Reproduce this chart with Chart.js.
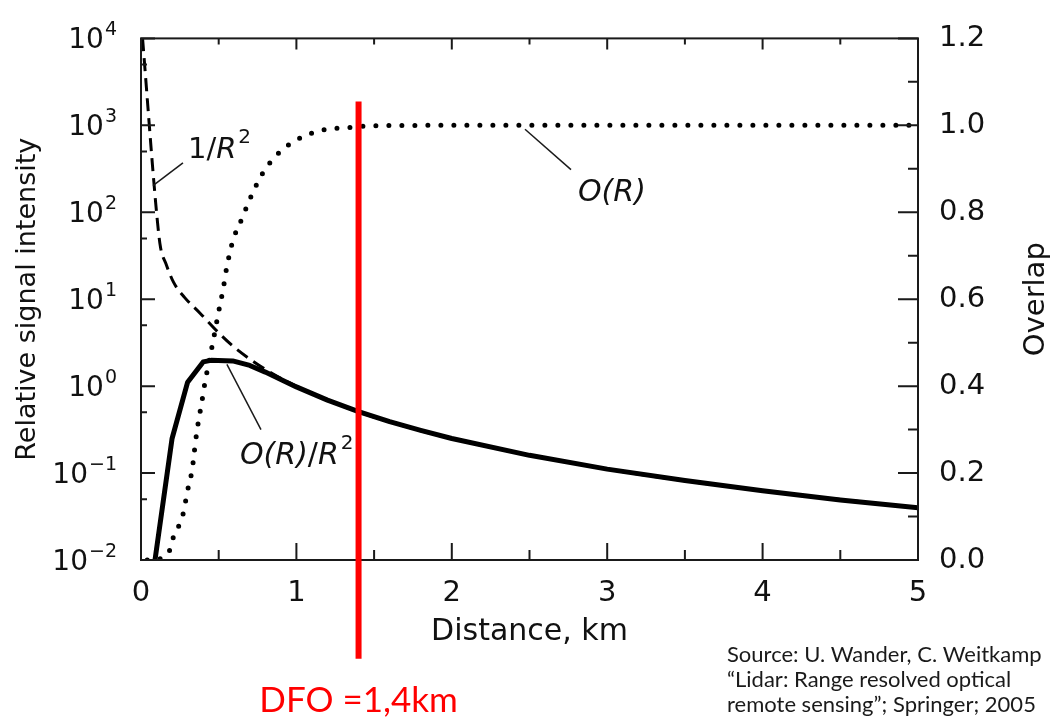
<!DOCTYPE html>
<html>
<head>
<meta charset="utf-8">
<title>Lidar overlap and range signal</title>
<script src="https://cdn.jsdelivr.net/npm/chart.js@4.4.1/dist/chart.umd.min.js"></script>
<style>
  html, body { margin: 0; padding: 0; background: #ffffff; }
  #wrap { position: relative; width: 1054px; height: 718px; }
  canvas { display: block; }
</style>
</head>
<body>
<div id="wrap"><canvas id="chart" width="1054" height="718"></canvas></div>
<script>
// Range-corrected lidar signal O(R)/R^2 (solid, left log axis)
const distanceSignal = [0.09, 0.2, 0.3, 0.4, 0.45, 0.59, 0.7, 0.8, 0.9, 1.0, 1.2, 1.4, 1.6, 1.8, 2.0, 2.5, 3.0, 3.5, 4.0, 4.5, 5.0];
const signalValues   = [0.01, 0.25, 1.11, 1.9, 1.98, 1.95, 1.73, 1.45, 1.19, 0.98, 0.69, 0.51, 0.39, 0.31, 0.25, 0.16, 0.111, 0.082, 0.0625, 0.049, 0.04];

// Geometric 1/R^2 term (dashed, left log axis)
const distanceInvSq = [0.01, 0.1, 0.125, 0.16, 0.21, 0.28, 0.38, 0.5, 0.6, 0.7, 0.8, 0.9, 1.0, 1.2, 1.5, 2.0, 3.0, 4.0, 5.0];
const invSqValues   = [10000, 100, 40, 25.7, 15.6, 10.5, 6.9, 4.1, 2.8, 2.05, 1.56, 1.23, 1.0, 0.69, 0.44, 0.25, 0.111, 0.0625, 0.04];

// Overlap function O(R) (dotted, right linear axis)
const distanceOverlap = [0.04, 0.1, 0.135, 0.19, 0.21, 0.245, 0.27, 0.3, 0.33, 0.35, 0.37, 0.39, 0.41, 0.44, 0.47, 0.5, 0.53, 0.55, 0.59, 0.65, 0.71, 0.78, 0.88, 1.01, 1.17, 1.34, 1.5, 2.0, 3.0, 4.0, 5.0];
const overlapValues   = [0, 0.002, 0.005, 0.027, 0.055, 0.08, 0.105, 0.16, 0.21, 0.27, 0.32, 0.36, 0.405, 0.46, 0.515, 0.572, 0.626, 0.67, 0.733, 0.786, 0.838, 0.888, 0.934, 0.968, 0.989, 0.995, 0.999, 1, 1, 1, 1];

// Axis ticks
const xTickValues      = [0, 1, 2, 3, 4, 5];
const xMinorValues     = [0.5, 1.5, 2.5, 3.5, 4.5];
const leftExponents    = [-2, -1, 0, 1, 2, 3, 4];
const leftMinorValues  = [0.05, 0.5, 5, 50, 500, 5000];
const rightTickValues  = [0, 0.2, 0.4, 0.6, 0.8, 1.0, 1.2];
const rightMinorValues = [0.1, 0.3, 0.5, 0.7, 0.9, 1.1];

// Texts
const xTitle = 'Distance, km';
const leftTitle = 'Relative signal intensity';
const rightTitle = 'Overlap';
const dfoDistance = 1.4;
const dfoLabel = 'DFO =1,4km';
const dfoSpan = [1.055, -0.227];          // vertical extent on the overlap axis
const sourceLines = [
  'Source: U. Wander, C. Weitkamp',
  '\u201CLidar: Range resolved optical',
  'remote sensing\u201D; Springer; 2005'
];

// Curve labels with leader lines, placed in data coordinates
const curveLabels = [
  { parts: [{ text: '1/' }, { text: 'R', italic: true }, { text: '2', sup: true }],
    axis: 'y', at: [0.302, 422], leader: [[0.27, 370], [0.077, 203]], size: 29 },
  { parts: [{ text: 'O(R)', italic: true }],
    axis: 'y2', at: [2.812, 0.825], leader: [[2.471, 0.991], [2.767, 0.898]], size: 30 },
  { parts: [{ text: 'O(R)', italic: true }, { text: '/' }, { text: 'R', italic: true }, { text: '2', sup: true }],
    axis: 'y', at: [0.637, 0.1265], leader: [[0.553, 1.78], [0.772, 0.316]], size: 30 }
];

const inkColor = '#1a1a1a';
const textColor = '#111111';
const chartFont = '"DejaVu Sans", "Liberation Sans", sans-serif';
const slideFont = 'Lato, "Open Sans", sans-serif';

const toPoints = (xs, ys) => xs.map((x, i) => ({ x: x, y: ys[i] }));

function drawRich(ctx, x, y, parts, size) {
  let cx = x;
  ctx.textAlign = 'left';
  ctx.textBaseline = 'alphabetic';
  parts.forEach(p => {
    const fs = p.sup ? Math.round(size * 0.68) : size;
    ctx.font = (p.italic ? 'italic ' : '') + fs + 'px ' + chartFont;
    if (p.sup) cx += 2;
    ctx.fillText(p.text, cx, p.sup ? y - size * 0.52 : y);
    cx += ctx.measureText(p.text).width;
  });
}

const plotDecor = {
  id: 'plotDecor',
  afterDraw(chart) {
    const { ctx, chartArea: a, scales } = chart;
    const sx = scales.x, sy = scales.y, so = scales.y2;
    ctx.save();

    // plot frame
    ctx.strokeStyle = inkColor;
    ctx.lineWidth = 2;
    ctx.strokeRect(a.left, a.top, a.right - a.left, a.bottom - a.top);

    // inward tick marks
    ctx.beginPath();
    const seg = (x1, y1, x2, y2) => { ctx.moveTo(x1, y1); ctx.lineTo(x2, y2); };
    xTickValues.forEach(v => {
      const p = sx.getPixelForValue(v);
      seg(p, a.bottom, p, a.bottom - 17);
      seg(p, a.top, p, a.top + 11);
    });
    xMinorValues.forEach(v => {
      const p = sx.getPixelForValue(v);
      seg(p, a.bottom, p, a.bottom - 10);
      seg(p, a.top, p, a.top + 6);
    });
    leftExponents.forEach(e => {
      const p = sy.getPixelForValue(Math.pow(10, e));
      seg(a.left, p, a.left + 14, p);
    });
    leftMinorValues.forEach(v => {
      const p = sy.getPixelForValue(v);
      seg(a.left, p, a.left + 6, p);
    });
    rightTickValues.forEach(v => {
      const p = so.getPixelForValue(v);
      seg(a.right, p, a.right - 20, p);
    });
    rightMinorValues.forEach(v => {
      const p = so.getPixelForValue(v);
      seg(a.right, p, a.right - 10, p);
    });
    ctx.stroke();

    // left tick labels as powers of ten
    ctx.fillStyle = textColor;
    ctx.textAlign = 'right';
    ctx.textBaseline = 'alphabetic';
    leftExponents.forEach(e => {
      const p = sy.getPixelForValue(Math.pow(10, e));
      const base = p + 10;
      const expText = e < 0 ? '\u2212' + (-e) : String(e);
      const right = a.left - 24;
      ctx.font = '19px ' + chartFont;
      ctx.fillText(expText, right, base - 13);
      const w = ctx.measureText(expText).width;
      ctx.font = '28px ' + chartFont;
      ctx.fillText('10', right - w - 1, base);
    });

    // right axis title, reading upwards
    ctx.save();
    ctx.translate(1044, (a.top + a.bottom) / 2);
    ctx.rotate(-Math.PI / 2);
    ctx.textAlign = 'center';
    ctx.textBaseline = 'alphabetic';
    ctx.font = '29px ' + chartFont;
    ctx.fillText(rightTitle, 0, 0);
    ctx.restore();

    // curve labels and leader lines
    curveLabels.forEach(lbl => {
      const ys = scales[lbl.axis];
      ctx.beginPath();
      ctx.strokeStyle = inkColor;
      ctx.lineWidth = 1.5;
      ctx.moveTo(sx.getPixelForValue(lbl.leader[0][0]), ys.getPixelForValue(lbl.leader[0][1]));
      ctx.lineTo(sx.getPixelForValue(lbl.leader[1][0]), ys.getPixelForValue(lbl.leader[1][1]));
      ctx.stroke();
      ctx.fillStyle = textColor;
      drawRich(ctx, sx.getPixelForValue(lbl.at[0]), ys.getPixelForValue(lbl.at[1]), lbl.parts, lbl.size);
    });

    // DFO marker
    const dx = sx.getPixelForValue(dfoDistance);
    ctx.beginPath();
    ctx.strokeStyle = '#ff0000';
    ctx.lineWidth = 6;
    ctx.moveTo(dx, so.getPixelForValue(dfoSpan[0]));
    ctx.lineTo(dx, so.getPixelForValue(dfoSpan[1]));
    ctx.stroke();
    ctx.fillStyle = '#ff0000';
    ctx.font = '35px ' + slideFont;
    ctx.textAlign = 'center';
    ctx.textBaseline = 'alphabetic';
    ctx.fillText(dfoLabel, dx, 712);

    // source note
    ctx.fillStyle = '#1a1a1a';
    ctx.font = '22px ' + slideFont;
    ctx.textAlign = 'left';
    sourceLines.forEach((line, i) => ctx.fillText(line, 727, 662 + i * 25));

    ctx.restore();
  }
};

new Chart(document.getElementById('chart'), {
  type: 'line',
  data: {
    datasets: [
      {
        label: 'O(R)/R\u00B2',
        data: toPoints(distanceSignal, signalValues),
        yAxisID: 'y',
        borderColor: '#000000',
        borderWidth: 5,
        borderJoinStyle: 'round',
        borderCapStyle: 'round',
        pointRadius: 0,
        tension: 0,
        order: 0
      },
      {
        label: '1/R\u00B2',
        data: toPoints(distanceInvSq, invSqValues),
        yAxisID: 'y',
        borderColor: '#000000',
        borderWidth: 3,
        borderDash: [13, 7],
        pointRadius: 0,
        cubicInterpolationMode: 'monotone',
        order: 1
      },
      {
        label: 'O(R)',
        data: toPoints(distanceOverlap, overlapValues),
        yAxisID: 'y2',
        borderColor: '#000000',
        borderWidth: 5,
        borderDash: [0, 13],
        borderCapStyle: 'round',
        pointRadius: 0,
        cubicInterpolationMode: 'monotone',
        order: 2
      }
    ]
  },
  options: {
    responsive: false,
    animation: false,
    devicePixelRatio: 1,
    layout: { padding: { top: 32, left: 0, right: 0, bottom: 0 } },
    plugins: { legend: { display: false }, tooltip: { enabled: false } },
    scales: {
      x: {
        type: 'linear',
        position: 'bottom',
        min: 0,
        max: 5,
        afterBuildTicks: s => { s.ticks = xTickValues.map(v => ({ value: v })); },
        ticks: { color: textColor, font: { family: chartFont, size: 29 }, padding: 16, maxRotation: 0,
                 callback: v => String(v) },
        grid: { display: false, drawTicks: false },
        border: { display: false },
        title: { display: true, text: xTitle, color: textColor,
                 font: { family: chartFont, size: 30 }, padding: { top: 0, bottom: 68 } },
        afterFit: s => { s.height = 158; }
      },
      y: {
        type: 'logarithmic',
        position: 'left',
        min: 0.01,
        max: 10000,
        ticks: { display: false },
        grid: { display: false, drawTicks: false },
        border: { display: false },
        title: { display: true, text: leftTitle, color: textColor,
                 font: { family: chartFont, size: 27 }, padding: { top: 12, bottom: 0 } },
        afterFit: s => { s.width = 141; }
      },
      y2: {
        type: 'linear',
        position: 'right',
        min: 0,
        max: 1.2,
        afterBuildTicks: s => { s.ticks = rightTickValues.map(v => ({ value: v })); },
        ticks: { color: textColor, font: { family: chartFont, size: 29 }, padding: 21,
                 callback: v => Number(v).toFixed(1) },
        grid: { display: false, drawTicks: false },
        border: { display: false },
        afterFit: s => { s.width = 136; }
      }
    }
  },
  plugins: [plotDecor]
});
</script>
</body>
</html>
